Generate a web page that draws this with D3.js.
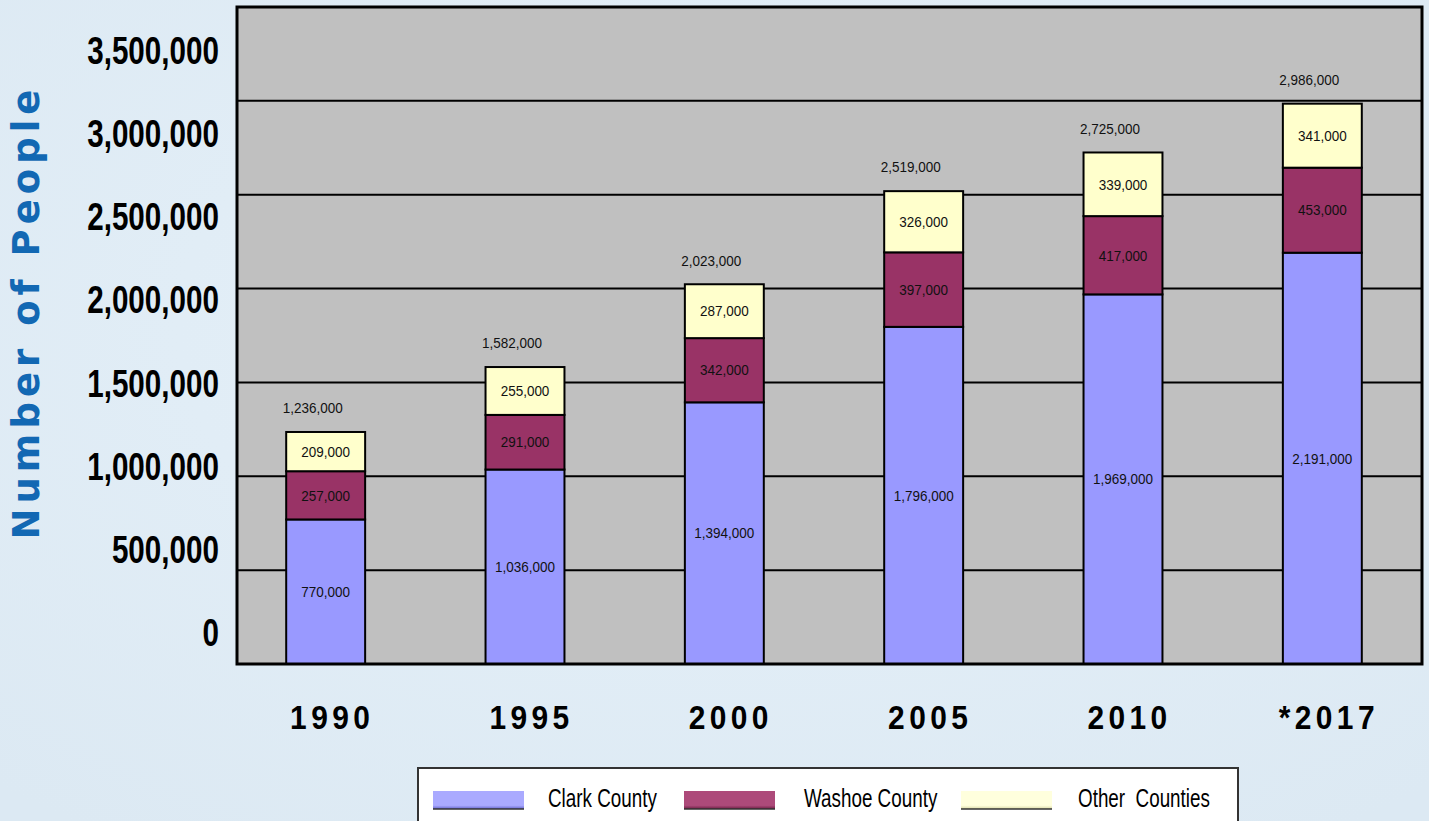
<!DOCTYPE html>
<html>
<head>
<meta charset="utf-8">
<script src="https://cdn.jsdelivr.net/npm/d3@7"></script>
<style>
  html, body { margin: 0; padding: 0; }
  body { width: 1429px; height: 821px; overflow: hidden; background: #e1edf6; }
  svg { display: block; }
</style>
</head>
<body>
<svg id="chart" width="1429" height="821"></svg>
<script>
// ---- data ----
const years = ["1990", "1995", "2000", "2005", "2010", "*2017"];
const clark = [770000, 1036000, 1394000, 1796000, 1969000, 2191000];
const washoe = [257000, 291000, 342000, 397000, 417000, 453000];
const other = [209000, 255000, 287000, 326000, 339000, 341000];
const totals = [1236000, 1582000, 2023000, 2519000, 2725000, 2986000];
const seriesNames = ["Clark County", "Washoe County", "Other  Counties"];
const yTicks = [0, 500000, 1000000, 1500000, 2000000, 2500000, 3000000, 3500000];

const colors = ["#9999ff", "#993366", "#ffffcc"];
const fmt = d3.format(",");

const svg = d3.select("#chart");
const defs = svg.append("defs");

// background
const bg = defs.append("radialGradient").attr("id", "bgGrad")
  .attr("cx", "50%").attr("cy", "40%").attr("r", "75%");
bg.append("stop").attr("offset", "0%").attr("stop-color", "#e6f1f9");
bg.append("stop").attr("offset", "100%").attr("stop-color", "#dce9f3");
svg.append("rect").attr("width", 1429).attr("height", 821).attr("fill", "url(#bgGrad)");

// plot geometry
const plot = { left: 237, right: 1422, top: 7, bottom: 664 };

const x = d3.scaleBand().domain(years).range([226, 1422]).paddingInner(0.604).paddingOuter(0.302);
const y = d3.scaleLinear().domain([0, 3500000]).range([plot.bottom, plot.top]);
// tick labels sit on their own (offset) scale, as in the original
const yLabel = d3.scaleLinear().domain([0, 3500000]).range([632, 50]);

// plot background
svg.append("rect")
  .attr("x", plot.left).attr("y", plot.top)
  .attr("width", plot.right - plot.left).attr("height", plot.bottom - plot.top)
  .attr("fill", "#c0c0c0");

// gridlines
svg.append("g").selectAll("line").data(yTicks.slice(1, -1)).join("line")
  .attr("x1", plot.left).attr("x2", plot.right)
  .attr("y1", d => y(d)).attr("y2", d => y(d))
  .attr("stroke", "#000").attr("stroke-width", 2);

// stacked data
const rows = years.map((yr, i) => ({ year: yr, clark: clark[i], washoe: washoe[i], other: other[i], total: totals[i] }));
const stack = d3.stack().keys(["clark", "washoe", "other"]);
const layers = stack(rows);

const valueFont = "'Liberation Sans', Arial, sans-serif";
const gBars = svg.append("g");
layers.forEach((layer, li) => {
  const g = gBars.append("g");
  g.selectAll("rect").data(layer).join("rect")
    .attr("x", d => x(d.data.year))
    .attr("width", x.bandwidth())
    .attr("y", d => y(d[1]))
    .attr("height", d => y(d[0]) - y(d[1]))
    .attr("fill", colors[li])
    .attr("stroke", "#000").attr("stroke-width", 2);
  g.selectAll("text").data(layer).join("text")
    .attr("transform", d => `translate(${x(d.data.year) + x.bandwidth() / 2},${(y(d[0]) + y(d[1])) / 2}) scale(0.9,1)`)
    .attr("dy", "0.35em")
    .attr("text-anchor", "middle")
    .attr("font-family", valueFont)
    .attr("font-size", 15)
    .attr("fill", "#111")
    .text(d => fmt(d[1] - d[0]));
});

// totals
svg.append("g").selectAll("text").data(rows).join("text")
  .attr("transform", d => `translate(${x(d.year) + x.bandwidth() / 2 - 13},${y(d.total) - 24}) scale(0.9,1)`)
  .attr("dy", "0.35em")
  .attr("text-anchor", "middle")
  .attr("font-family", valueFont)
  .attr("font-size", 15)
  .attr("fill", "#111")
  .text(d => fmt(d.total));

// plot border
svg.append("rect")
  .attr("x", plot.left).attr("y", plot.top)
  .attr("width", plot.right - plot.left).attr("height", plot.bottom - plot.top)
  .attr("fill", "none").attr("stroke", "#000").attr("stroke-width", 3);

// y tick labels (condensed bold)
svg.append("g").selectAll("text").data(yTicks).join("text")
  .attr("transform", d => `translate(219,${yLabel(d)}) scale(0.76,1)`)
  .attr("dy", "0.36em")
  .attr("text-anchor", "end")
  .attr("font-family", "'Liberation Sans', Arial, sans-serif")
  .attr("font-weight", "bold")
  .attr("font-size", 39)
  .attr("fill", "#000")
  .text(d => fmt(d));

// x category labels
const ls = 5;
svg.append("g").selectAll("text").data(years).join("text")
  .attr("transform", d => `translate(${x(d) + x.bandwidth() / 2 + ls / 2 + 4},717) scale(0.88,1)`)
  .attr("dy", "0.36em")
  .attr("text-anchor", "middle")
  .attr("font-family", "'Liberation Sans', Arial, sans-serif")
  .attr("font-weight", "bold")
  .attr("font-size", 34)
  .attr("letter-spacing", ls + "px")
  .attr("fill", "#000")
  .text(d => d);

// y axis title
svg.append("text")
  .attr("transform", "translate(39,312) rotate(-90)")
  .attr("text-anchor", "middle")
  .attr("font-family", "'DejaVu Sans', 'Liberation Sans', Arial, sans-serif")
  .attr("font-weight", "bold")
  .attr("font-size", 37)
  .attr("letter-spacing", "5px")
  .attr("fill", "#1268b3")
  .text("Number of People");

// legend
const legend = svg.append("g");
legend.append("rect")
  .attr("x", 418).attr("y", 768).attr("width", 820).attr("height", 60)
  .attr("fill", "#fff").attr("stroke", "#333").attr("stroke-width", 2);

const swatchX = [433, 684, 961];
const textX = [548, 804, 1078];
const lightColors = ["#aaaaff", "#ad4a7a", "#ffffdd"];
const darkColors = ["#6666cc", "#6e1f45", "#d9d9a8"];
colors.forEach((c, i) => {
  const gr = defs.append("linearGradient").attr("id", "sw" + i)
    .attr("x1", 0).attr("y1", 0).attr("x2", 0).attr("y2", 1);
  gr.append("stop").attr("offset", "0%").attr("stop-color", lightColors[i]);
  gr.append("stop").attr("offset", "80%").attr("stop-color", lightColors[i]);
  gr.append("stop").attr("offset", "100%").attr("stop-color", darkColors[i]);
});
legend.selectAll("rect.sw").data(seriesNames).join("rect")
  .attr("class", "sw")
  .attr("x", (d, i) => swatchX[i]).attr("y", 791)
  .attr("width", 91).attr("height", 18)
  .attr("fill", (d, i) => `url(#sw${i})`);
legend.selectAll("line.sw").data(seriesNames).join("line")
  .attr("class", "sw")
  .attr("x1", (d, i) => swatchX[i]).attr("x2", (d, i) => swatchX[i] + 91)
  .attr("y1", 809).attr("y2", 809)
  .attr("stroke", "#333").attr("stroke-width", 1.5);
legend.selectAll("text").data(seriesNames).join("text")
  .attr("transform", (d, i) => `translate(${textX[i]},798) scale(0.725,1)`)
  .attr("dy", "0.36em")
  .attr("font-family", "'Liberation Sans', Arial, sans-serif")
  .attr("font-size", 26)
  .attr("fill", "#000")
  .attr("xml:space", "preserve")
  .style("white-space", "pre")
  .text(d => d);
</script>
</body>
</html>
